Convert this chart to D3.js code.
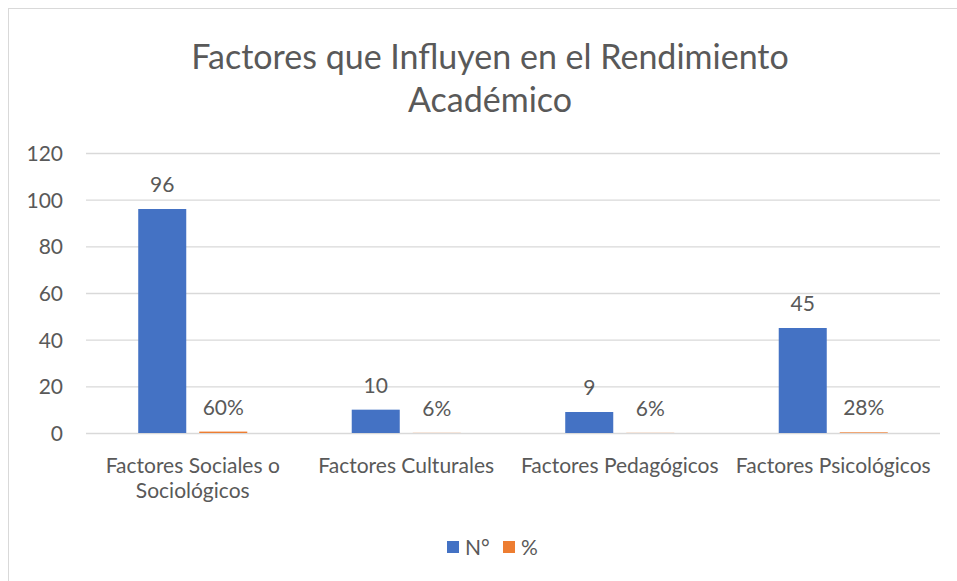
<!DOCTYPE html>
<html><head><meta charset="utf-8">
<script src="https://cdn.jsdelivr.net/npm/d3@7"></script>
<style>body{margin:0;background:#fff}svg{display:block}text{font-family:Lato,"Open Sans",sans-serif;fill:#595959}</style>
</head><body><svg id="c" width="957" height="581"></svg>
<script>
const categories = [["Factores Sociales o","Sociológicos"],["Factores Culturales"],["Factores Pedagógicos"],["Factores Psicológicos"]];
const seriesNames = ["N°","%"];
const counts = [96, 10, 9, 45];
const percents = [0.60, 0.06, 0.06, 0.28];
const yTicks = [0, 20, 40, 60, 80, 100, 120];
const colors = ["#4472C4", "#ED7D31"];
const titleLines = ["Factores que Influyen en el Rendimiento", "Académico"];

const svg = d3.select("#c");
svg.append("rect").attr("x",8.5).attr("y",8.5).attr("width",1000).attr("height",1000)
  .attr("fill","none").attr("stroke","#D9D9D9").attr("stroke-width",1);

const pLeft = 86, pRight = 940, pTop = 153, pBottom = 433;
const y = d3.scaleLinear().domain([0,120]).range([pBottom, pTop]);
const x = d3.scaleBand().domain(d3.range(categories.length)).range([pLeft,pRight]).padding(0);
const xi = d3.scaleBand().domain([0,1]).range([0,x.bandwidth()]).paddingInner(0.213).paddingOuter(0.856);

// title
svg.append("g").selectAll("text").data(titleLines).join("text")
  .attr("x",(pLeft+pRight)/2 - 23).attr("y",(d,i)=>69+i*43).attr("text-anchor","middle")
  .style("font-size","34px").text(d=>d);

// grid
const yAxis = d3.axisLeft(y).tickValues(yTicks).tickSize(-(pRight-pLeft)).tickPadding(23);
const ga = svg.append("g").attr("transform",`translate(${pLeft},0)`).call(yAxis);
ga.select(".domain").remove();
ga.selectAll(".tick line").attr("stroke","#D9D9D9").attr("stroke-width",1.3);
ga.selectAll(".tick text").style("font-size","21px").style("font-family","Lato").attr("fill","#595959").attr("dy","0.35em");

const data = categories.map((c,i)=>({i, vals:[counts[i], percents[i]]}));
const g = svg.append("g");
data.forEach(d=>{
  d.vals.forEach((v,s)=>{
    const bx = x(d.i)+xi(s);
    g.append("rect").attr("x",bx).attr("y",y(v)).attr("width",xi.bandwidth())
      .attr("height",pBottom-y(v)).attr("fill",colors[s]);
    g.append("text").attr("x",bx+xi.bandwidth()/2).attr("y",y(v)-17)
      .attr("text-anchor","middle").style("font-size","21px")
      .text(s===0 ? d3.format("d")(v) : d3.format(".0%")(v));
  });
});

// category labels
const cl = svg.append("g");
categories.forEach((lines,i)=>{
  lines.forEach((t,j)=>{
    cl.append("text").attr("x",x(i)+x.bandwidth()/2).attr("y",473+j*25)
      .attr("text-anchor","middle").style("font-size","21px").text(t);
  });
});

// legend
const lg = svg.append("g");
const lx = [447, 503];
seriesNames.forEach((n,s)=>{
  lg.append("rect").attr("x",lx[s]).attr("y",541).attr("width",12).attr("height",12).attr("fill",colors[s]);
  lg.append("text").attr("x",lx[s]+18).attr("y",555).style("font-size","21px").text(n);
});
</script></body></html>
